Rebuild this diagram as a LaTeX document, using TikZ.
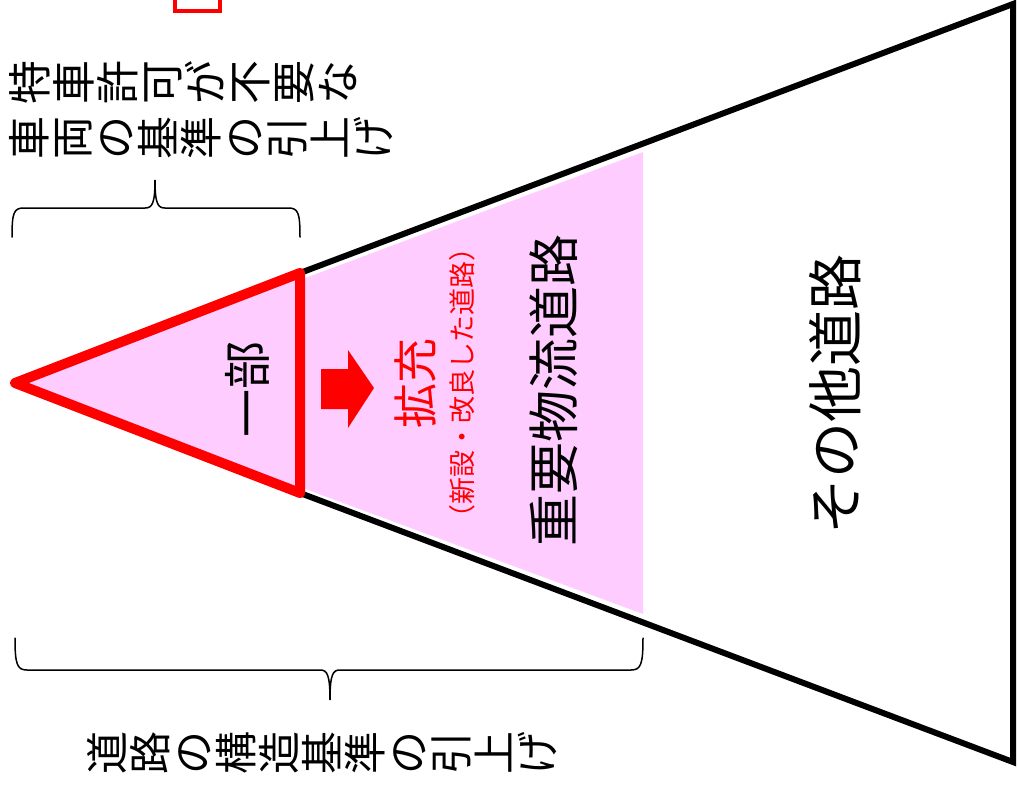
\documentclass[tikz,border=0pt]{standalone}
\usepackage{fontspec}
\usepackage{graphicx}
\setmainfont{Noto Sans CJK JP}
\newfontfamily\jp{Noto Sans CJK JP}
\definecolor{rosa}{HTML}{FFCCFF}
\definecolor{rojo}{HTML}{FF0000}
\makeatletter
\def\vt#1{\vt@loop#1\relax}
\def\vt@loop#1{\ifx#1\relax\else\rotatebox[origin=c]{90}{\raisebox{0pt}[0.88em][0.12em]{\makebox[1em]{#1}}}\expandafter\vt@loop\fi}
\makeatother
\newcommand{\fs}[1]{\fontsize{#1pt}{#1pt}\selectfont}
\begin{document}
\begin{tikzpicture}[x=1pt,y=-1pt,
  lbl/.style={inner sep=0pt,outer sep=0pt,font=\jp},
  rlbl/.style={lbl,rotate=90},
  bracestyle/.style={draw=black,line width=1.5pt,line cap=round}]
\useasboundingbox (0,0) rectangle (1018,785);
% pink band
\fill[rosa] (300,280) -- (643,152) -- (643,614) -- (300,487) -- cycle;
% black outline
\draw[line width=6pt,line join=miter] (300,273) -- (1013,4) -- (1013,762) -- (300,493);
% red triangle
\draw[rojo,fill=rosa,line width=10pt,line join=round] (15,383) -- (300,273) -- (300,493) -- cycle;
% red arrow
\fill[rojo] (321,369) -- (348,369) -- (348,350) -- (374,388) -- (348,428) -- (348,409) -- (321,409) -- cycle;
% red rectangle at top
\draw[rojo,line width=3.5pt] (175,-10) -- (175,11) -- (220,11) -- (220,-10);
% braces
\draw[bracestyle] (12,237) .. controls (12,212) and (14,208) .. (24,208) -- (145,208)
  .. controls (152,208) and (155,204) .. (155,180)
  .. controls (155,204) and (158,208) .. (165,208) -- (288,208)
  .. controls (298,208) and (300,212) .. (300,237);
\draw[bracestyle] (15,638) .. controls (15,664) and (17,670) .. (27,670) -- (320,670)
  .. controls (327,670) and (330,674) .. (330,700)
  .. controls (330,674) and (333,670) .. (340,670) -- (631,670)
  .. controls (641,670) and (643,664) .. (643,638);
% texts
\node[lbl,anchor=west,font=\jp\fs{44}] (t1) at (8,82) {\vt{特車許可が不要な}};
\node[lbl,anchor=west,font=\jp\fs{43}] (t2) at (8,138) {\vt{車両の基準の引上げ}};
\node[lbl,font=\jp\fs{43}] (t3) at (322,753) {\vt{道路の構造基準の引上げ}};
\node[rlbl,font=\jp\fs{48}] (ichibu) at (247,389) {一部};
\node[rlbl,font=\jp\fs{45},text=rojo] (kakuju) at (415,383) {拡充};
\node[rlbl,font=\jp\fs{27},text=rojo] (shinsetsu) at (462,383) {（新設・改良した道路）};
\node[rlbl,font=\jp\fs{52}] (juyo) at (554,390) {重要物流道路};
\node[rlbl,font=\jp\fs{56}] (sonota) at (835,394) {その他道路};
\end{tikzpicture}
\end{document}
